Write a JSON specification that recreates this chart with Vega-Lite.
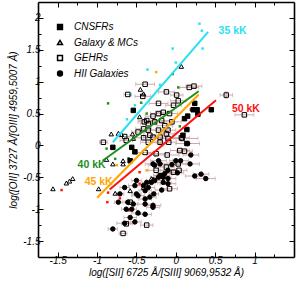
{
  "$schema": "https://vega.github.io/schema/vega-lite/v6.json",
  "autosize": "none",
  "padding": {"left": 38, "top": 2, "right": 9, "bottom": 28},
  "width": 256,
  "height": 255,
  "background": "white",
  "config": {
    "view": {"stroke": null},
    "font": "Liberation Sans",
    "axis": {
      "grid": false,
      "domainColor": "black",
      "domainWidth": 1.6,
      "tickColor": "black",
      "tickWidth": 1,
      "labelFont": "Liberation Sans",
      "labelFontStyle": "italic",
      "labelFontSize": 10,
      "labelColor": "black",
      "titleFont": "Liberation Sans",
      "titleFontStyle": "italic",
      "titleFontWeight": "normal",
      "titleFontSize": 10,
      "titleColor": "black"
    }
  },
  "datasets": {
    "pts": [
      {"t": "GEHRs", "x": -0.39, "y": 0.96, "e": 0.12},
      {"t": "GEHRs", "x": -0.61, "y": 0.80, "e": 0.05},
      {"t": "GEHRs", "x": -0.42, "y": 0.77, "e": 0.1},
      {"t": "GEHRs", "x": -0.22, "y": 0.66, "e": 0.12},
      {"t": "GEHRs", "x": -0.29, "y": 0.46, "e": 0.1},
      {"t": "GEHRs", "x": -0.40, "y": 0.37, "e": 0.08},
      {"t": "GEHRs", "x": -0.35, "y": 0.24, "e": 0.1},
      {"t": "GEHRs", "x": -0.48, "y": 0.21, "e": 0.08},
      {"t": "GEHRs", "x": -0.65, "y": 0.14, "e": 0.06},
      {"t": "GEHRs", "x": -0.22, "y": 0.50, "e": 0.1},
      {"t": "GEHRs", "x": -0.16, "y": 0.52, "e": 0.1},
      {"t": "GEHRs", "x": -0.35, "y": 0.34, "e": 0.1},
      {"t": "GEHRs", "x": -0.27, "y": 0.37, "e": 0.12},
      {"t": "GEHRs", "x": -0.18, "y": 0.39, "e": 0.1},
      {"t": "GEHRs", "x": -0.14, "y": 0.31, "e": 0.1},
      {"t": "GEHRs", "x": -0.22, "y": 0.24, "e": 0.12},
      {"t": "GEHRs", "x": -0.41, "y": 0.12, "e": 0.1},
      {"t": "GEHRs", "x": -0.33, "y": 0.16, "e": 0.08},
      {"t": "GEHRs", "x": -0.20, "y": 0.13, "e": 0.1},
      {"t": "GEHRs", "x": -0.12, "y": 0.18, "e": 0.1},
      {"t": "GEHRs", "x": 0.23, "y": 0.93, "e": 0.1},
      {"t": "GEHRs", "x": 0.17, "y": 0.91, "e": 0.12},
      {"t": "GEHRs", "x": 0.01, "y": 0.79, "e": 0.08},
      {"t": "GEHRs", "x": 0.03, "y": 0.70, "e": 0.1},
      {"t": "GEHRs", "x": 0.64, "y": 0.79, "e": 0.08, "ey": 0.05},
      {"t": "GEHRs", "x": -0.12, "y": 0.84, "e": 0.1},
      {"t": "GEHRs", "x": 0.07, "y": 0.12, "e": 0.1},
      {"t": "GEHRs", "x": -0.08, "y": 0.50, "e": 0.1},
      {"t": "GEHRs", "x": -0.05, "y": 0.37, "e": 0.12},
      {"t": "GEHRs", "x": -0.10, "y": 0.24, "e": 0.1},
      {"t": "GEHRs", "x": -0.03, "y": 0.63, "e": 0.1},
      {"t": "GEHRs", "x": 0.87, "y": 0.48, "e": 0.12},
      {"t": "GEHRs", "x": -0.92, "y": 0.05, "e": 0.05},
      {"t": "GEHRs", "x": -0.63, "y": 0.08, "e": 0.08},
      {"t": "GEHRs", "x": -0.35, "y": 0.05, "e": 0.1},
      {"t": "GEHRs", "x": -0.25, "y": -0.13, "e": 0.12},
      {"t": "GEHRs", "x": -0.39, "y": -0.11, "e": 0.1},
      {"t": "GEHRs", "x": -0.10, "y": 0.11, "e": 0.1},
      {"t": "GEHRs", "x": 0.08, "y": 0.11, "e": 0.2},
      {"t": "GEHRs", "x": -0.09, "y": 0.05, "e": 0.1},
      {"t": "GEHRs", "x": 0.11, "y": -0.09, "e": 0.1},
      {"t": "GEHRs", "x": 0.05, "y": -0.08, "e": 0.12},
      {"t": "GEHRs", "x": -0.11, "y": -0.15, "e": 0.15},
      {"t": "GEHRs", "x": 0.03, "y": -0.29, "e": 0.1},
      {"t": "GEHRs", "x": 0.04, "y": -0.39, "e": 0.1},
      {"t": "GEHRs", "x": -0.67, "y": -1.38, "e": 0.05},
      {"t": "GEHRs", "x": -0.37, "y": -1.25, "e": 0.08},
      {"t": "GEHRs", "x": -0.63, "y": -1.23, "e": 0.06},
      {"t": "GEHRs", "x": -0.25, "y": -0.39, "e": 0.1},
      {"t": "GEHRs", "x": -0.03, "y": -0.42, "e": 0.1},
      {"t": "GEHRs", "x": -0.08, "y": -0.68, "e": 0.1},
      {"t": "GEHRs", "x": -0.58, "y": -0.89, "e": 0.05},
      {"t": "GEHRs", "x": -0.37, "y": 0.39, "e": 0.1},
      {"t": "GEHRs", "x": -0.41, "y": 0.26, "e": 0.1},
      {"t": "GEHRs", "x": -0.29, "y": 0.13, "e": 0.12},
      {"t": "GEHRs", "x": -0.20, "y": 0.05, "e": 0.1},
      {"t": "GEHRs", "x": -0.12, "y": -0.34, "e": 0.1},
      {"t": "HII Galaxies", "x": -0.80, "y": -1.31, "e": 0.06},
      {"t": "HII Galaxies", "x": -0.65, "y": -1.22, "e": 0.1},
      {"t": "HII Galaxies", "x": -0.52, "y": -1.20, "e": 0.08},
      {"t": "HII Galaxies", "x": -0.63, "y": -1.00, "e": 0.06},
      {"t": "HII Galaxies", "x": -0.73, "y": -0.89, "e": 0.05},
      {"t": "HII Galaxies", "x": -0.61, "y": -0.89, "e": 0.05},
      {"t": "HII Galaxies", "x": -0.52, "y": -0.63, "e": 0.08},
      {"t": "HII Galaxies", "x": -0.65, "y": -0.66, "e": 0.06},
      {"t": "HII Galaxies", "x": -0.39, "y": -0.71, "e": 0.08},
      {"t": "HII Galaxies", "x": -0.22, "y": -0.50, "e": 0.1},
      {"t": "HII Galaxies", "x": 0.15, "y": 0.03, "e": 0.15},
      {"t": "HII Galaxies", "x": 0.19, "y": -0.15, "e": 0.1},
      {"t": "HII Galaxies", "x": 0.06, "y": -0.24, "e": 0.1},
      {"t": "HII Galaxies", "x": 0.0, "y": -0.24, "e": 0.08},
      {"t": "HII Galaxies", "x": -0.05, "y": -0.30, "e": 0.1},
      {"t": "HII Galaxies", "x": -0.10, "y": -0.39, "e": 0.1},
      {"t": "HII Galaxies", "x": 0.02, "y": -0.43, "e": 0.08},
      {"t": "HII Galaxies", "x": 0.24, "y": -0.48, "e": 0.12},
      {"t": "HII Galaxies", "x": 0.32, "y": -0.45, "e": 0.1},
      {"t": "HII Galaxies", "x": 0.38, "y": -0.52, "e": 0.12},
      {"t": "HII Galaxies", "x": -0.10, "y": -0.52, "e": 0.1},
      {"t": "HII Galaxies", "x": -0.18, "y": -0.70, "e": 0.08},
      {"t": "HII Galaxies", "x": -0.28, "y": -0.76, "e": 0.06},
      {"t": "HII Galaxies", "x": -0.29, "y": -0.97, "e": 0.08},
      {"t": "HII Galaxies", "x": -0.29, "y": -0.29, "e": 0.1},
      {"t": "HII Galaxies", "x": -0.22, "y": -0.24, "e": 0.1},
      {"t": "HII Galaxies", "x": -0.20, "y": -0.47, "e": 0.08},
      {"t": "HII Galaxies", "x": -0.16, "y": -0.50, "e": 0.1},
      {"t": "HII Galaxies", "x": -0.10, "y": -0.60, "e": 0.1},
      {"t": "HII Galaxies", "x": -0.27, "y": -0.55, "e": 0.1},
      {"t": "HII Galaxies", "x": -0.35, "y": -0.66, "e": 0.08},
      {"t": "HII Galaxies", "x": -0.41, "y": -0.63, "e": 0.08},
      {"t": "HII Galaxies", "x": -0.50, "y": -0.55, "e": 0.06},
      {"t": "HII Galaxies", "x": -0.71, "y": -0.76, "e": 0.05},
      {"t": "HII Galaxies", "x": -0.48, "y": -0.79, "e": 0.08},
      {"t": "HII Galaxies", "x": -0.39, "y": -0.84, "e": 0.08},
      {"t": "HII Galaxies", "x": -0.29, "y": -0.94, "e": 0.1},
      {"t": "HII Galaxies", "x": -0.56, "y": -1.00, "e": 0.06},
      {"t": "HII Galaxies", "x": -0.58, "y": -1.13, "e": 0.08},
      {"t": "HII Galaxies", "x": -0.33, "y": -0.81, "e": 0.08},
      {"t": "HII Galaxies", "x": -0.18, "y": -0.47, "e": 0.1},
      {"t": "HII Galaxies", "x": -0.16, "y": -0.58, "e": 0.1},
      {"t": "HII Galaxies", "x": -0.54, "y": -0.92, "e": 0.06},
      {"t": "HII Galaxies", "x": -0.39, "y": -0.92, "e": 0.1},
      {"t": "HII Galaxies", "x": -0.48, "y": -1.06, "e": 0.08},
      {"t": "HII Galaxies", "x": -0.39, "y": -1.08, "e": 0.08},
      {"t": "HII Galaxies", "x": 0.18, "y": -0.29, "e": 0.12},
      {"t": "HII Galaxies", "x": -0.20, "y": -0.29, "e": 0.1},
      {"t": "HII Galaxies", "x": -0.27, "y": -0.31, "e": 0.08},
      {"t": "HII Galaxies", "x": -0.14, "y": -0.44, "e": 0.1},
      {"t": "HII Galaxies", "x": -0.31, "y": -0.58, "e": 0.08},
      {"t": "HII Galaxies", "x": -0.37, "y": -0.58, "e": 0.06},
      {"t": "HII Galaxies", "x": -0.50, "y": -0.76, "e": 0.06},
      {"t": "CNSFRs", "x": -0.54, "y": 0.55, "e": 0},
      {"t": "CNSFRs", "x": 0.45, "y": 0.56, "e": 0},
      {"t": "CNSFRs", "x": 0.24, "y": 0.66, "e": 0},
      {"t": "CNSFRs", "x": 0.22, "y": 0.56, "e": 0},
      {"t": "CNSFRs", "x": 0.27, "y": 0.56, "e": 0},
      {"t": "CNSFRs", "x": 0.28, "y": 0.49, "e": 0},
      {"t": "CNSFRs", "x": 0.15, "y": 0.46, "e": 0},
      {"t": "CNSFRs", "x": 0.11, "y": 0.42, "e": 0},
      {"t": "CNSFRs", "x": 0.14, "y": 0.25, "e": 0},
      {"t": "CNSFRs", "x": 0.09, "y": 0.16, "e": 0},
      {"t": "CNSFRs", "x": -0.80, "y": -0.03, "e": 0},
      {"t": "CNSFRs", "x": -0.56, "y": -0.03, "e": 0},
      {"t": "CNSFRs", "x": 0.14, "y": 0.03, "e": 0},
      {"t": "CNSFRs", "x": -0.52, "y": -0.10, "e": 0},
      {"t": "CNSFRs", "x": -0.58, "y": -0.24, "e": 0},
      {"t": "Galaxy & MCs", "x": -1.56, "y": -0.68, "e": 0},
      {"t": "Galaxy & MCs", "x": -1.39, "y": -0.59, "e": 0},
      {"t": "Galaxy & MCs", "x": -1.35, "y": -0.56, "e": 0},
      {"t": "Galaxy & MCs", "x": -1.31, "y": -0.52, "e": 0},
      {"t": "Galaxy & MCs", "x": -0.98, "y": -0.68, "e": 0},
      {"t": "Galaxy & MCs", "x": -0.88, "y": -0.22, "e": 0},
      {"t": "Galaxy & MCs", "x": -0.80, "y": -0.29, "e": 0},
      {"t": "Galaxy & MCs", "x": -0.67, "y": -0.29, "e": 0},
      {"t": "Galaxy & MCs", "x": -0.77, "y": -0.75, "e": 0},
      {"t": "Galaxy & MCs", "x": -0.58, "y": -0.71, "e": 0},
      {"t": "Galaxy & MCs", "x": -0.48, "y": -1.05, "e": 0},
      {"t": "Galaxy & MCs", "x": 0.07, "y": 1.24, "e": 0},
      {"t": "Galaxy & MCs", "x": -0.45, "y": 0.88, "e": 0},
      {"t": "Galaxy & MCs", "x": -0.41, "y": 0.81, "e": 0},
      {"t": "Galaxy & MCs", "x": -0.73, "y": 0.19, "e": 0},
      {"t": "Galaxy & MCs", "x": -0.69, "y": 0.17, "e": 0},
      {"t": "Galaxy & MCs", "x": -0.55, "y": 0.18, "e": 0},
      {"t": "Galaxy & MCs", "x": -0.82, "y": 0.18, "e": 0},
      {"t": "Galaxy & MCs", "x": -0.67, "y": -0.24, "e": 0},
      {"t": "Galaxy & MCs", "x": -0.29, "y": -0.53, "e": 0},
      {"t": "Galaxy & MCs", "x": -0.41, "y": -0.66, "e": 0},
      {"t": "Galaxy & MCs", "x": -0.31, "y": -0.52, "e": 0},
      {"t": "Galaxy & MCs", "x": -0.46, "y": 0.45, "e": 0},
      {"t": "Galaxy & MCs", "x": -0.54, "y": 0.11, "e": 0}
    ],
    "dots": [
      {"T": "35 kK", "x": 0.30, "y": 1.91},
      {"T": "35 kK", "x": 0.33, "y": 1.80},
      {"T": "35 kK", "x": -0.04, "y": 1.52},
      {"T": "35 kK", "x": 0.34, "y": 1.52},
      {"T": "35 kK", "x": 0.0, "y": 1.30},
      {"T": "35 kK", "x": -0.36, "y": 1.19},
      {"T": "35 kK", "x": -0.52, "y": 0.63},
      {"T": "35 kK", "x": -0.58, "y": 0.79},
      {"T": "35 kK", "x": -0.62, "y": 0.41},
      {"T": "35 kK", "x": -0.20, "y": 0.95},
      {"T": "40 kK", "x": -0.86, "y": 0.66},
      {"T": "40 kK", "x": -0.04, "y": 1.12},
      {"T": "40 kK", "x": 0.03, "y": 0.91},
      {"T": "40 kK", "x": -0.44, "y": 0.67},
      {"T": "40 kK", "x": -0.37, "y": 0.50},
      {"T": "40 kK", "x": -0.88, "y": -0.05},
      {"T": "40 kK", "x": -0.77, "y": -0.21},
      {"T": "40 kK", "x": -0.60, "y": -0.20},
      {"T": "40 kK", "x": 0.05, "y": 0.30},
      {"T": "45 kK", "x": -0.25, "y": 1.15},
      {"T": "45 kK", "x": -0.75, "y": -0.31},
      {"T": "45 kK", "x": -0.37, "y": -0.39},
      {"T": "45 kK", "x": -0.20, "y": 0.02},
      {"T": "50 kK", "x": -1.45, "y": -0.70},
      {"T": "50 kK", "x": -0.87, "y": -0.89},
      {"T": "50 kK", "x": -0.86, "y": -0.74},
      {"T": "50 kK", "x": -0.71, "y": -0.83},
      {"T": "50 kK", "x": -0.46, "y": -0.60},
      {"T": "50 kK", "x": -0.46, "y": -0.42},
      {"T": "50 kK", "x": 0.19, "y": 0.56},
      {"T": "50 kK", "x": -0.60, "y": -1.02}
    ],
    "lines": [
      {"T": "35 kK", "x": -0.80, "y": 0.05},
      {"T": "35 kK", "x": 0.41, "y": 1.78},
      {"T": "40 kK", "x": -0.93, "y": -0.24},
      {"T": "40 kK", "x": 0.29, "y": 0.85},
      {"T": "45 kK", "x": -1.0, "y": -0.82},
      {"T": "45 kK", "x": 0.29, "y": 0.80},
      {"T": "50 kK", "x": -0.84, "y": -0.69},
      {"T": "50 kK", "x": 0.51, "y": 0.71}
    ],
    "labels": [
      {"T": "35 kK", "x": 0.72, "y": 1.80},
      {"T": "40 kK", "x": -1.07, "y": -0.30},
      {"T": "45 kK", "x": -0.98, "y": -0.58},
      {"T": "50 kK", "x": 0.89, "y": 0.57}
    ]
  },
  "resolve": {"axis": {"x": "independent", "y": "independent"}},
  "layer": [
    {
      "data": {"name": "pts"},
      "transform": [{"filter": "datum.e > 0"}],
      "mark": {"type": "errorbar", "color": "#cfa6a6", "thickness": 1, "ticks": {"size": 4, "color": "#cfa6a6"}},
      "encoding": {
        "x": {"field": "x", "type": "quantitative", "scale": {"domain": [-1.75, 1.5], "nice": false, "zero": false}, "axis": null},
        "xError": {"field": "e"},
        "y": {"field": "y", "type": "quantitative", "scale": {"domain": [-1.75, 2.25], "nice": false, "zero": false}, "axis": null}
      }
    },
    {
      "data": {"name": "pts"},
      "transform": [{"filter": "datum.ey > 0"}],
      "mark": {"type": "errorbar", "color": "#cfa6a6", "thickness": 1, "ticks": {"size": 4, "color": "#cfa6a6"}},
      "encoding": {
        "y": {"field": "y", "type": "quantitative", "axis": null},
        "yError": {"field": "ey"},
        "x": {"field": "x", "type": "quantitative", "axis": null}
      }
    },
    {
      "data": {"name": "dots"},
      "mark": {"type": "square", "size": 6, "opacity": 1},
      "encoding": {
        "x": {"field": "x", "type": "quantitative", "axis": null},
        "y": {"field": "y", "type": "quantitative", "axis": null},
        "color": {"field": "T", "type": "nominal", "scale": {"domain": ["35 kK", "40 kK", "45 kK", "50 kK"], "range": ["#2ae0f0", "#1b8f1b", "#ffa500", "#ff1010"]}, "legend": null}
      }
    },
    {
      "data": {"name": "pts"},
      "mark": {"type": "point", "size": 20, "strokeWidth": 1, "stroke": "black", "opacity": 1},
      "encoding": {
        "x": {"field": "x", "type": "quantitative",
          "axis": {"orient": "bottom", "values": [-1.5, -1.25, -1, -0.75, -0.5, -0.25, 0, 0.25, 0.5, 0.75, 1, 1.25],
            "labelExpr": "abs(datum.value*2 - round(datum.value*2)) < 0.01 ? (datum.value < 0 ? '-' : '') + format(abs(datum.value), '~g') : ''",
            "tickSize": {"condition": {"test": "abs(datum.value*2 - round(datum.value*2)) < 0.01", "value": -5}, "value": -3},
            "labelPadding": 3, "labelFlush": false, "labelBound": false,
            "title": "log([SII] 6725 Å/[SIII] 9069,9532 Å)", "titlePadding": 2}},
        "y": {"field": "y", "type": "quantitative",
          "axis": {"orient": "left", "values": [-1.5, -1.25, -1, -0.75, -0.5, -0.25, 0, 0.25, 0.5, 0.75, 1, 1.25, 1.5, 1.75, 2],
            "labelExpr": "abs(datum.value*2 - round(datum.value*2)) < 0.01 ? (datum.value < 0 ? '-' : '') + format(abs(datum.value), '~g') : ''",
            "tickSize": {"condition": {"test": "abs(datum.value*2 - round(datum.value*2)) < 0.01", "value": -5}, "value": -3},
            "labelPadding": 3, "labelFlush": false, "labelBound": false,
            "title": "log([OII] 3727 Å/[OIII] 4959,5007 Å)", "titlePadding": 4}},
        "shape": {"field": "t", "type": "nominal",
          "scale": {"domain": ["CNSFRs", "Galaxy & MCs", "GEHRs", "HII Galaxies"], "range": ["square", "triangle-up", "square", "circle"]},
          "legend": {"title": null, "orient": "none", "legendX": 17, "legendY": 20, "labelFont": "Liberation Sans", "labelFontStyle": "italic", "labelFontSize": 10, "labelColor": "black", "labelOffset": 9, "rowPadding": 3.5, "symbolSize": 24, "padding": 0,
            "encode": {"symbols": {"update": {"stroke": {"value": "black"}, "strokeWidth": {"value": 1}}}}}},
        "fill": {"field": "t", "type": "nominal",
          "scale": {"domain": ["CNSFRs", "Galaxy & MCs", "GEHRs", "HII Galaxies"], "range": ["black", "transparent", "transparent", "black"]},
          "legend": {"title": null, "orient": "none", "legendX": 17, "legendY": 20, "labelFont": "Liberation Sans", "labelFontStyle": "italic", "labelFontSize": 10, "labelColor": "black", "labelOffset": 9, "rowPadding": 3.5, "symbolSize": 24, "padding": 0,
            "encode": {"symbols": {"update": {"stroke": {"value": "black"}, "strokeWidth": {"value": 1}}}}}}
      }
    },
    {
      "data": {"name": "lines"},
      "mark": {"type": "line", "strokeWidth": 2},
      "encoding": {
        "x": {"field": "x", "type": "quantitative", "axis": null},
        "y": {"field": "y", "type": "quantitative", "axis": null},
        "color": {"field": "T", "type": "nominal", "legend": null},
        "detail": {"field": "T"}
      }
    },
    {
      "data": {"name": "labels"},
      "mark": {"type": "text", "font": "Liberation Sans", "fontWeight": "bold", "fontSize": 10.5},
      "encoding": {
        "x": {"field": "x", "type": "quantitative",
          "axis": {"orient": "top", "values": [-1.5, -1.25, -1, -0.75, -0.5, -0.25, 0, 0.25, 0.5, 0.75, 1, 1.25],
            "labels": false, "title": null,
            "tickSize": {"condition": {"test": "abs(datum.value*2 - round(datum.value*2)) < 0.01", "value": -5}, "value": -3}}},
        "y": {"field": "y", "type": "quantitative",
          "axis": {"orient": "right", "values": [-1.5, -1.25, -1, -0.75, -0.5, -0.25, 0, 0.25, 0.5, 0.75, 1, 1.25, 1.5, 1.75, 2],
            "labels": false, "title": null,
            "tickSize": {"condition": {"test": "abs(datum.value*2 - round(datum.value*2)) < 0.01", "value": -5}, "value": -3}}},
        "text": {"field": "T"},
        "color": {"field": "T", "type": "nominal", "legend": null}
      }
    }
  ]
}
